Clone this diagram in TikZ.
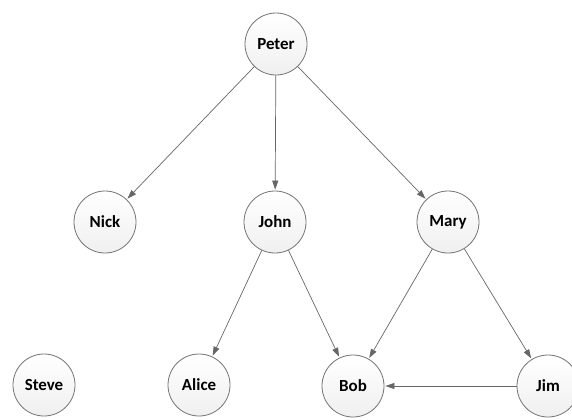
\documentclass[tikz,border=0pt]{standalone}
\usepackage{fontspec}
\setmainfont{Carlito}
\usetikzlibrary{arrows.meta}
\tikzset{
  person/.style={circle, draw=black!55, line width=0.8pt, minimum size=62bp, inner sep=0pt,
    top color=white, bottom color=black!6, font=\fontsize{17}{19}\selectfont\bfseries},
  link/.style={-{Triangle[length=9bp,width=6bp]}, draw=black!60, line width=0.7pt, shorten >=1pt}
}
\begin{document}
\begin{tikzpicture}[x=1bp, y=-1bp]
\useasboundingbox (0,0) rectangle (572,419);
\node[person] (peter) at (276,44) {Peter};
\node[person] (nick) at (105,222) {Nick};
\node[person] (john) at (275,222) {John};
\node[person] (mary) at (448,222) {Mary};
\node[person] (steve) at (44,385) {Steve};
\node[person] (alice) at (199,385) {Alice};
\node[person] (bob) at (353,386) {Bob};
\node[person] (jim) at (548,386) {Jim};
\draw[link] (peter) -- (nick);
\draw[link] (peter) -- (john);
\draw[link] (peter) -- (mary);
\draw[link] (john) -- (alice);
\draw[link] (john) -- (bob);
\draw[link] (mary) -- (bob);
\draw[link] (mary) -- (jim);
\draw[link] (jim) -- (bob);
\end{tikzpicture}
\end{document}
